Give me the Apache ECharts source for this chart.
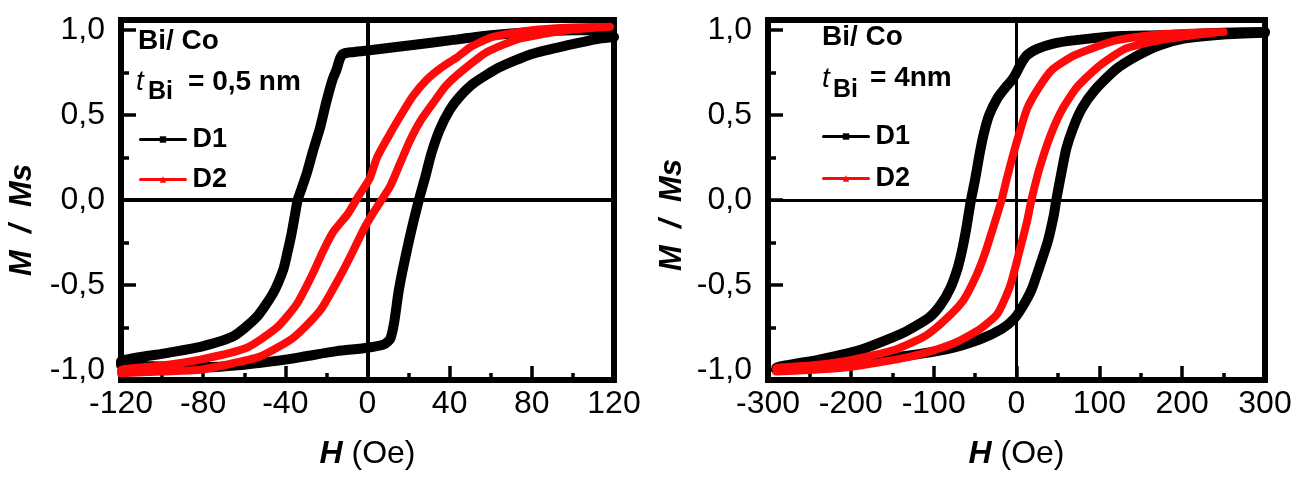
<!DOCTYPE html>
<html>
<head>
<meta charset="utf-8">
<script src="https://cdn.jsdelivr.net/npm/echarts@6/dist/echarts.min.js"></script>
<style>
  html, body { margin: 0; padding: 0; background: #fff; }
  #chart { width: 1316px; height: 477px; }
</style>
</head>
<body>
<div id="chart"></div>
<script>
// loops: descending branch then ascending branch, [H (Oe), M/Ms]
const leftD1 = [
  [118, 1.0], [100, 1.0], [80, 0.99], [60, 0.97], [40, 0.94], [20, 0.91], [10, 0.895], [0, 0.88],
  [-8, 0.87], [-12, 0.86], [-13.5, 0.83], [-15, 0.77], [-17, 0.71], [-20, 0.58], [-23, 0.43],
  [-26.5, 0.29], [-29.5, 0.16], [-32, 0.07], [-34, 0.0], [-35.5, -0.1], [-37, -0.2], [-39, -0.31],
  [-41, -0.41], [-46, -0.55], [-54, -0.69], [-65, -0.8], [-80, -0.86], [-97, -0.9], [-120, -0.95],
  [-120, -0.97], [-100, -0.98], [-80, -0.985], [-60, -0.97], [-40, -0.94], [-30, -0.92], [-15, -0.89],
  [0, -0.87], [8, -0.85], [11, -0.82], [13, -0.72], [15, -0.55], [17, -0.42], [20, -0.25],
  [22.5, -0.12], [25, 0.0], [28, 0.13], [31, 0.27], [35, 0.41], [40, 0.53], [45, 0.61], [52, 0.69],
  [64, 0.78], [80, 0.86], [97, 0.91], [113, 0.95], [120, 0.96]
]
const leftD2 = [
  [118, 1.02], [97, 1.015], [80, 1.0], [61, 0.96], [50, 0.9], [43.6, 0.84], [36, 0.78], [29, 0.71],
  [22, 0.61], [15.8, 0.49], [10, 0.37], [4.6, 0.25], [1.2, 0.13], [-4, 0.03], [-9.5, -0.08],
  [-16.8, -0.19], [-22, -0.31], [-26.5, -0.43], [-34.3, -0.61], [-44, -0.75], [-58.7, -0.87],
  [-81.5, -0.94], [-100, -0.975], [-120, -1.0],
  [-120, -1.02], [-100, -1.01], [-81.5, -1.0], [-65, -0.96], [-52, -0.92], [-36, -0.81], [-23, -0.65],
  [-13.4, -0.45], [-7, -0.3], [-2.2, -0.18], [3.6, -0.06], [11, 0.08], [16, 0.22], [20.7, 0.35],
  [26, 0.47], [31.9, 0.57], [38, 0.67], [45, 0.75], [58, 0.87], [74, 0.95], [97, 1.0], [118, 1.02]
]
const rightD1 = [
  [300, 0.99], [250, 0.985], [200, 0.975], [172, 0.97], [120, 0.965], [69, 0.94], [43.6, 0.92],
  [25, 0.89], [12, 0.85], [4, 0.79], [0, 0.75], [-5, 0.71], [-12, 0.67], [-23, 0.6], [-33, 0.5],
  [-40, 0.38], [-45, 0.26], [-50, 0.12], [-55, 0.0], [-60, -0.15], [-65, -0.28], [-71, -0.4],
  [-80, -0.52], [-92, -0.62], [-105, -0.69], [-136, -0.78], [-187, -0.88], [-238, -0.94], [-290, -0.99],
  [-290, -1.0], [-238, -0.97], [-187, -0.95], [-136, -0.92], [-85, -0.88], [-44, -0.82], [-18, -0.76],
  [-3, -0.7], [7, -0.63], [18, -0.53], [28, -0.39], [38, -0.24], [45, -0.09], [48, 0.0], [53, 0.13],
  [60, 0.3], [68, 0.42], [79, 0.54], [95, 0.65], [120, 0.77], [146, 0.85], [172, 0.91], [202, 0.95],
  [250, 0.975], [300, 0.985]
]
const rightD2 = [
  [250, 0.99], [213, 0.985], [172, 0.975], [120, 0.94], [95, 0.9], [69, 0.85], [43.6, 0.77], [28, 0.67],
  [13, 0.54], [2.6, 0.38], [-5, 0.25], [-12, 0.12], [-18, 0.0], [-28, -0.16], [-38.5, -0.32],
  [-49, -0.45], [-64, -0.59], [-85, -0.7], [-110, -0.8], [-146, -0.88], [-197, -0.94], [-249, -0.975],
  [-290, -0.99],
  [-290, -1.01], [-213, -0.99], [-146, -0.94], [-110, -0.9], [-74, -0.84], [-44, -0.76], [-23, -0.67],
  [-8, -0.51], [2.6, -0.32], [13, -0.12], [18, 0.0], [28, 0.19], [41, 0.38], [56, 0.54], [74, 0.67],
  [100, 0.79], [131, 0.89], [172, 0.94], [213, 0.97], [250, 0.99]
]

const yMajor = [-1, -0.5, 0, 0.5, 1]
const yMinor = [-0.75, -0.25, 0.25, 0.75]
const leftXMajor = [-120, -80, -40, 0, 40, 80, 120]
const leftXMinor = [-100, -60, -20, 20, 60, 100]
const rightXMajor = [-300, -200, -100, 0, 100, 200, 300]
const rightXMinor = [-250, -150, -50, 50, 150, 250]

const FONT = '"Liberation Sans", Arial, sans-serif'
const RED = '#ff0a0a'

const chart = echarts.init(document.getElementById('chart'))

// ticks only get drawn together with the axis line
const line = { show: true, onZero: false, lineStyle: { color: '#000', width: 6 } }

const xAxes = (grid, min, max, major, minor) => [
  {
    type: 'value', gridIndex: grid, min, max, position: 'bottom',
    axisLine: line,
    splitLine: { show: false },
    axisTick: { show: true, inside: true, length: 14, customValues: major, lineStyle: { color: '#000', width: 3.5 } },
    axisLabel: { customValues: major, margin: 8, color: '#000', fontSize: 32, fontFamily: FONT },
    name: '{i|H} (Oe)', nameLocation: 'middle', nameGap: 58,
    nameTextStyle: {
      color: '#000', fontSize: 32, fontFamily: FONT,
      rich: { i: { fontSize: 32, fontFamily: FONT, fontStyle: 'italic', fontWeight: 'bold', color: '#000' } },
    },
  },
  {
    type: 'value', gridIndex: grid, min, max, position: 'bottom',
    axisLine: line, splitLine: { show: false },
    axisLabel: { show: false, customValues: minor },
    axisTick: { show: true, inside: true, length: 7, customValues: minor, lineStyle: { color: '#000', width: 3.5 } },
  },
]

const yAxes = (grid) => [
  {
    type: 'value', gridIndex: grid, min: -1.06, max: 1.06, position: 'left',
    axisLine: line,
    splitLine: { show: false },
    axisTick: { show: true, inside: true, length: 15, customValues: yMajor, lineStyle: { color: '#000', width: 3.5 } },
    axisLabel: {
      customValues: yMajor, margin: 16, color: '#000', fontSize: 32, fontFamily: FONT,
      formatter: (v) => v.toFixed(1).replace('.', ','),
    },
  },
  {
    type: 'value', gridIndex: grid, min: -1.06, max: 1.06, position: 'left',
    axisLine: line, splitLine: { show: false },
    axisLabel: { show: false, customValues: yMinor },
    axisTick: { show: true, inside: true, length: 8, customValues: yMinor, lineStyle: { color: '#000', width: 3.5 } },
  },
]

const zeroLines = (w) => ({
  silent: true, symbol: 'none', z: 1, animation: false,
  label: { show: false },
  lineStyle: { color: '#000', width: w, type: 'solid' },
  data: [{ xAxis: 0 }, { yAxis: 0 }],
})

const loop = (name, data, axis, color, width, symbol, extra) => Object.assign({
  name, type: 'line', data,
  xAxisIndex: axis, yAxisIndex: axis,
  symbol, symbolSize: 7, showSymbol: false,
  smooth: 0.2,
  lineStyle: { color, width, cap: 'round', join: 'round' },
  itemStyle: { color },
  emphasis: { disabled: true },
}, extra)

const legendCfg = (left, top, gap) => ({
  data: ['D1', 'D2'], left, top, orient: 'vertical', selectedMode: false,
  itemWidth: 45, itemHeight: 8, itemGap: gap,
  lineStyle: { width: 3 },
  textStyle: { color: '#000', fontSize: 27, fontWeight: 'bold', fontFamily: FONT, padding: [0, 0, 0, 2] },
})

const txt = (x, y, text, size, weight, style) => ({
  type: 'text', x, y, silent: true,
  style: { text, fill: '#000', fontSize: size, fontWeight: weight, fontStyle: style || 'normal', fontFamily: FONT, verticalAlign: 'middle' },
})

const yName = (x, y) => ({
  type: 'text', x, y, rotation: Math.PI / 2, silent: true,
  style: { text: 'M  /  Ms', fill: '#000', fontSize: 31, fontWeight: 'bold', fontStyle: 'italic', fontFamily: FONT, align: 'center', verticalAlign: 'middle' },
})

chart.setOption({
  animation: false,
  grid: [
    { left: 121, top: 20, width: 493, height: 360, show: true, borderColor: '#000', borderWidth: 6 },
    { left: 768, top: 20, width: 497, height: 360, show: true, borderColor: '#000', borderWidth: 6 },
  ],
  xAxis: [...xAxes(0, -120, 120, leftXMajor, leftXMinor), ...xAxes(1, -300, 300, rightXMajor, rightXMinor)],
  yAxis: [...yAxes(0), ...yAxes(1)],
  legend: [legendCfg(134, 121, 13), legendCfg(817, 118, 15)],
  graphic: [
    txt(138, 41, 'Bi/ Co', 28, 'bold'),
    txt(136, 82, 't', 28, 'normal', 'italic'),
    txt(148, 92, 'Bi', 25, 'bold'),
    txt(188, 82, '= 0,5 nm', 28, 'bold'),
    txt(822, 37, 'Bi/ Co', 28, 'bold'),
    txt(822, 79, 't', 28, 'normal', 'italic'),
    txt(833, 90, 'Bi', 25, 'bold'),
    txt(870, 78, '= 4nm', 28, 'bold'),
    yName(22, 220),
    yName(672, 215),
  ],
  series: [
    loop('D1', leftD1, 0, '#000', 10, 'rect', { markLine: zeroLines(4) }),
    loop('D2', leftD2, 0, RED, 8, 'triangle'),
    loop('D1', rightD1, 2, '#000', 10, 'rect', { markLine: zeroLines(3) }),
    loop('D2', rightD2, 2, RED, 8, 'triangle'),
  ],
})
</script>
</body>
</html>
